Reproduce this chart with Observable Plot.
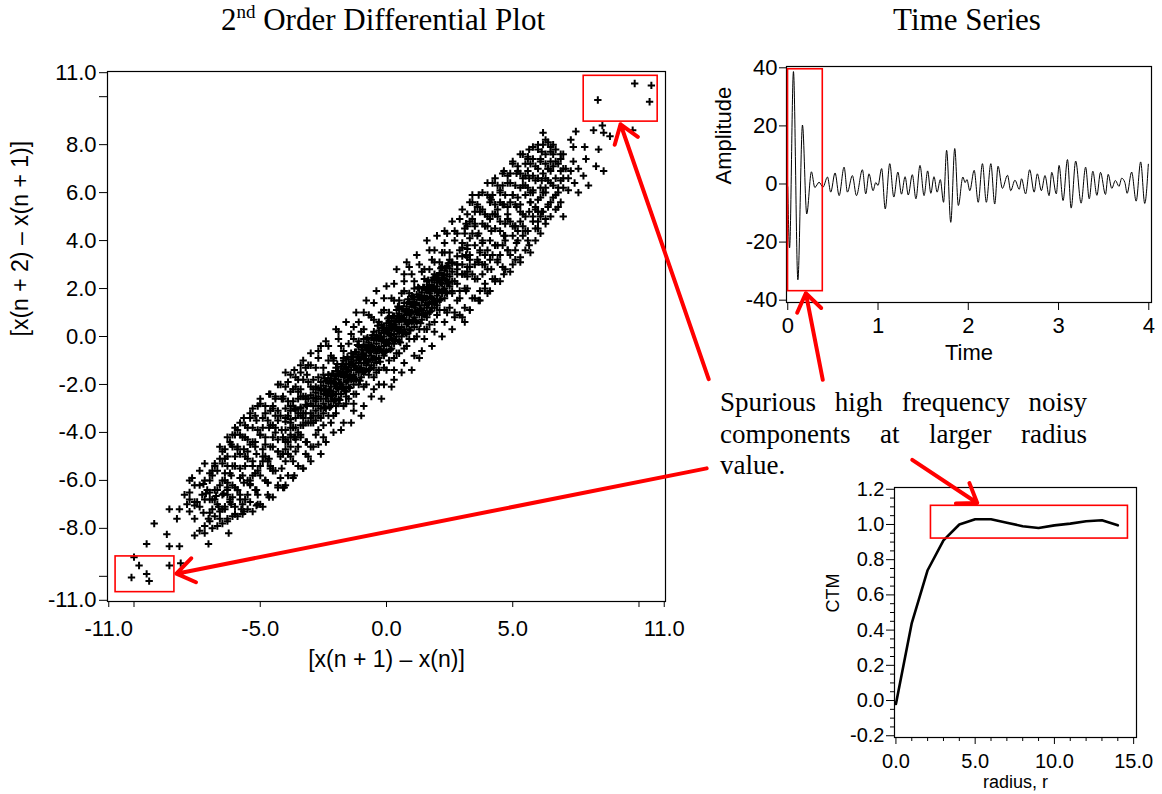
<!DOCTYPE html>
<html><head><meta charset="utf-8">
<script src="https://cdn.jsdelivr.net/npm/d3@7"></script>
<script src="https://cdn.jsdelivr.net/npm/@observablehq/plot@0.6"></script>
<style>
body{margin:0;background:#fff;}
#fig{position:relative;width:1162px;height:794px;overflow:hidden;background:#fff;}
#fig svg{position:absolute;left:0;top:0;}
.title{position:absolute;top:4px;font-family:"Liberation Serif","Times New Roman",serif;font-size:31px;line-height:31px;color:#000;white-space:nowrap;transform:translateX(-50%);}
.title sup{font-size:19px;vertical-align:12px;line-height:0;}
#note{position:absolute;left:720px;top:387px;width:367px;font-family:"Liberation Serif","Times New Roman",serif;font-size:27px;line-height:31.5px;color:#000;}
#note .j{text-align:justify;text-align-last:justify;}
</style></head>
<body>
<div id="fig">
  <div class="title" style="left:383px">2<sup>nd</sup> Order Differential Plot</div>
  <div class="title" style="left:967px">Time Series</div>
</div>
<script>
// ---------- Scatter (2nd order differential) data: [x(n+1)-x(n), x(n+2)-x(n+1)] ----------
const coreCloud = [
[-2.45,-2.95],[-2.45,-2.25],[-2.45,-1.75],[-2.35,-2.45],[-2.35,-1.85],[-2.25,-2.95],[-2.25,-2.25],[-2.25,-1.85],
[-2.15,-2.45],[-2.15,-1.55],[-2.05,-2.65],[-2.05,-1.95],[-2.05,-1.75],[-1.95,-2.15],[-1.95,-1.45],[-1.95,-1.15],
[-1.85,-2.65],[-1.85,-1.95],[-1.85,-1.55],[-1.75,-2.15],[-1.75,-1.55],[-1.75,-1.15],[-1.65,-2.25],[-1.65,-1.65],[-1.65,-1.25],
[-1.55,-1.85],[-1.55,-1.45],[-1.55,-0.85],[-1.45,-2.15],[-1.45,-1.65],[-1.45,-1.15],[-1.35,-1.75],[-1.35,-1.15],[-1.35,-0.85],
[-1.25,-1.75],[-1.25,-1.25],[-1.25,-0.65],[-1.15,-1.35],[-1.15,-0.85],[-1.15,-0.35],[-1.05,-1.85],[-1.05,-1.35],[-1.05,-0.95],
[-0.95,-1.45],[-0.95,-0.75],[-0.95,-0.45],[-0.85,-1.45],[-0.85,-0.95],[-0.85,-0.45],[-0.75,-1.05],[-0.75,-0.45],[-0.75,-0.05],
[-0.65,-1.35],[-0.65,-0.65],[-0.65,-0.45],[-0.55,-0.95],[-0.55,-0.45],[-0.55,0.05],[-0.45,-0.95],[-0.45,-0.55],[-0.45,-0.05],
[-0.35,-0.55],[-0.35,-0.05],[-0.35,0.45],[-0.25,-1.05],[-0.25,-0.55],[-0.25,-0.05],[-0.15,-0.65],[-0.15,-0.15],[-0.15,0.35],
[-0.05,-0.65],[-0.05,-0.25],[-0.05,0.25],[0.05,-0.25],[0.05,0.25],[0.05,0.75],[0.15,-0.55],[0.15,0.05],[0.15,0.55],
[0.25,-0.15],[0.25,0.35],[0.25,0.85],[0.35,-0.15],[0.35,0.35],[0.35,0.65],[0.45,0.25],[0.45,0.85],[0.45,1.25],
[0.55,-0.25],[0.55,0.25],[0.55,0.75],[0.65,0.15],[0.65,0.75],[0.65,1.15],[0.75,0.15],[0.75,0.65],[0.75,1.05],
[0.85,0.55],[0.85,1.05],[0.85,1.55],[0.95,0.25],[0.95,0.95],[0.95,1.35],[1.05,0.65],[1.05,1.35],[1.05,1.65],
[1.15,0.65],[1.15,1.05],[1.15,1.35],[1.25,1.05],[1.25,1.65],[1.25,2.05],[1.35,0.55],[1.35,1.15],[1.35,1.65],
[1.45,0.95],[1.45,1.55],[1.45,2.05],[1.55,0.95],[1.55,1.55],[1.55,1.95],[1.65,1.35],[1.65,1.95],[1.65,2.35],
[1.75,1.05],[1.75,1.65],[1.75,1.95],[1.85,1.45],[1.85,2.05],[1.85,2.45],[1.95,1.45],[1.95,1.95],[1.95,2.45],
[2.05,1.85],[2.05,2.45],[2.15,1.55],[2.15,2.25],[2.15,2.85],[2.25,1.95],[2.25,2.55],[2.35,1.85],[2.35,2.35],[2.35,2.85],
[2.45,2.25],[2.45,3.05]
];
const coreDense = [
[-4.0,-4.7],[-4.0,-4.3],[-4.0,-3.9],[-4.0,-3.55],[-3.8,-4.2],[-3.8,-3.8],[-3.8,-3.45],[-3.8,-3.1],
[-3.6,-4.2],[-3.6,-3.8],[-3.6,-3.4],[-3.6,-3.05],[-3.4,-4.1],[-3.4,-3.7],[-3.4,-3.3],[-3.4,-2.95],
[-3.2,-3.6],[-3.2,-3.2],[-3.2,-2.85],[-3.2,-2.5],[-3.0,-3.6],[-3.0,-3.2],[-3.0,-2.8],[-3.0,-2.45],
[-2.9,-3.3],[-2.9,-2.9],[-2.9,-2.55],[-2.9,-2.2],[-2.8,-3.5],[-2.8,-3.1],[-2.8,-2.7],[-2.8,-2.35],
[-2.7,-3.3],[-2.7,-2.9],[-2.7,-2.5],[-2.7,-2.15],[-2.6,-3.0],[-2.6,-2.6],[-2.6,-2.25],[-2.6,-1.9],
[-2.5,-3.2],[-2.5,-2.8],[-2.5,-2.4],[-2.5,-2.05],[-2.4,-3.0],[-2.4,-2.6],[-2.4,-2.2],[-2.4,-1.85],
[-2.3,-2.7],[-2.3,-2.3],[-2.3,-1.95],[-2.3,-1.6],[-2.2,-2.9],[-2.2,-2.5],[-2.2,-2.1],[-2.2,-1.75],
[-2.1,-2.7],[-2.1,-2.3],[-2.1,-1.9],[-2.1,-1.55],[-2.0,-2.4],[-2.0,-2.0],[-2.0,-1.65],[-2.0,-1.3],
[-1.9,-2.6],[-1.9,-2.2],[-1.9,-1.8],[-1.9,-1.45],[-1.8,-2.4],[-1.8,-2.0],[-1.8,-1.6],[-1.8,-1.25],
[-1.7,-2.1],[-1.7,-1.7],[-1.7,-1.35],[-1.7,-1.0],[-1.6,-2.3],[-1.6,-1.9],[-1.6,-1.5],[-1.6,-1.15],
[-1.5,-2.1],[-1.5,-1.7],[-1.5,-1.3],[-1.5,-0.95],[-1.4,-1.8],[-1.4,-1.4],[-1.4,-1.05],[-1.4,-0.7],
[-1.3,-2.0],[-1.3,-1.6],[-1.3,-1.2],[-1.3,-0.85],[-1.2,-1.8],[-1.2,-1.4],[-1.2,-1.0],[-1.2,-0.65],
[-1.1,-1.5],[-1.1,-1.1],[-1.1,-0.75],[-1.1,-0.4],[-1.0,-1.7],[-1.0,-1.3],[-1.0,-0.9],[-1.0,-0.55],
[-0.9,-1.5],[-0.9,-1.1],[-0.9,-0.7],[-0.9,-0.35],[-0.8,-1.2],[-0.8,-0.8],[-0.8,-0.45],[-0.8,-0.1],
[-0.7,-1.4],[-0.7,-1.0],[-0.7,-0.6],[-0.7,-0.25],[-0.6,-1.2],[-0.6,-0.8],[-0.6,-0.4],[-0.6,-0.05],
[-0.5,-0.9],[-0.5,-0.5],[-0.5,-0.15],[-0.5,0.2],[-0.4,-1.1],[-0.4,-0.7],[-0.4,-0.3],[-0.4,0.05],
[-0.3,-0.9],[-0.3,-0.5],[-0.3,-0.1],[-0.3,0.25],[-0.2,-0.6],[-0.2,-0.2],[-0.2,0.15],[-0.2,0.5],
[-0.1,-0.8],[-0.1,-0.4],[-0.1,0.0],[-0.1,0.35],[0.0,-0.6],[0.0,-0.2],[0.0,0.2],[0.0,0.55],
[0.1,-0.3],[0.1,0.1],[0.1,0.45],[0.1,0.8],[0.2,-0.5],[0.2,-0.1],[0.2,0.3],[0.2,0.65],
[0.3,-0.3],[0.3,0.1],[0.3,0.5],[0.3,0.85],[0.4,0.0],[0.4,0.4],[0.4,0.75],[0.4,1.1],
[0.5,-0.2],[0.5,0.2],[0.5,0.6],[0.5,0.95],[0.6,0.0],[0.6,0.4],[0.6,0.8],[0.6,1.15],
[0.7,0.3],[0.7,0.7],[0.7,1.05],[0.7,1.4],[0.8,0.1],[0.8,0.5],[0.8,0.9],[0.8,1.25],
[0.9,0.3],[0.9,0.7],[0.9,1.1],[0.9,1.45],[1.0,0.6],[1.0,1.0],[1.0,1.35],[1.0,1.7],
[1.1,0.4],[1.1,0.8],[1.1,1.2],[1.1,1.55],[1.2,0.6],[1.2,1.0],[1.2,1.4],[1.2,1.75],
[1.3,0.9],[1.3,1.3],[1.3,1.65],[1.3,2.0],[1.4,0.7],[1.4,1.1],[1.4,1.5],[1.4,1.85],
[1.5,0.9],[1.5,1.3],[1.5,1.7],[1.5,2.05],[1.6,1.2],[1.6,1.6],[1.6,1.95],[1.6,2.3],
[1.7,1.0],[1.7,1.4],[1.7,1.8],[1.7,2.15],[1.8,1.2],[1.8,1.6],[1.8,2.0],[1.8,2.35],
[1.9,1.5],[1.9,1.9],[1.9,2.25],[1.9,2.6],[2.0,1.3],[2.0,1.7],[2.0,2.1],[2.0,2.45],
[2.1,1.5],[2.1,1.9],[2.1,2.3],[2.1,2.65],[2.2,1.8],[2.2,2.2],[2.2,2.55],[2.2,2.9],
[2.3,1.6],[2.3,2.0],[2.3,2.4],[2.3,2.75],[2.4,1.8],[2.4,2.2],[2.4,2.6],[2.4,2.95],
[2.5,2.1],[2.5,2.5],[2.5,2.85],[2.5,3.2],[2.6,1.9],[2.6,2.3],[2.6,2.7],[2.6,3.05],
[2.8,2.2],[2.8,2.6],[2.8,3.0],[2.8,3.35],[3.0,2.6],[3.0,3.0],[3.0,3.35],[3.0,3.7],
[3.2,2.5],[3.2,2.9],[3.2,3.3],[3.2,3.65]
];
const haloCloud = [
[-2.4,-0.2],[-2.4,-4.4],[-2.2,-0.8],[-2.2,-3.6],[-2.0,0.3],[-2.0,-3.2],[-1.8,-0.4],[-1.8,-3.9],[-1.6,0.6],[-1.6,-2.8],
[-1.4,0.1],[-1.4,-3.6],[-1.2,1.0],[-1.2,-2.4],[-1.0,0.2],[-1.0,-3.3],[-0.8,1.5],[-0.8,-2.0],[-0.6,0.8],[-0.6,-2.5],
[-0.4,1.9],[-0.4,-1.5],[-0.2,1.0],[-0.2,-2.6],[0.0,2.1],[0.0,-1.4],[0.2,1.6],[0.2,-2.1],[0.4,2.8],[0.4,-0.7],
[0.6,1.8],[0.6,-1.5],[0.8,3.1],[0.8,-0.4],[1.0,2.6],[1.0,-1.4],[1.2,3.4],[1.2,0.0],[1.4,2.7],[1.4,-0.6],
[1.6,4.0],[1.6,0.3],[1.8,3.2],[1.8,-0.4],[2.0,4.2],[2.0,0.9],[2.2,3.5],[2.2,0.0],[2.4,4.3],[2.4,1.0],
[-1.9,0.2],[-0.9,1.0],[0.3,-1.8],[1.3,-0.9],[-2.3,-1.0],[2.3,3.9],[-1.3,-2.8],[0.7,2.6],[-0.3,-2.0],[1.7,3.6],
[-2.5,-1.3],[-2.1,-1.0],[-1.7,-0.6],[-1.3,-0.1],[-0.9,0.3],[-0.5,0.7],[-0.1,1.1],[0.3,1.5],[0.7,1.9],[1.1,2.3],
[1.5,2.8],[1.9,3.1],[2.3,3.5],[-2.5,-3.7],[-2.1,-3.3],[-1.7,-2.9],[-1.3,-2.4],[-0.9,-2.1],[-0.5,-1.7],[-0.1,-1.3],
[0.3,-0.9],[0.7,-0.5],[1.1,-0.1],[1.5,0.3],[1.9,0.6],[2.3,1.1],[-2.0,-2.9],[-1.1,-0.2],[0.9,1.8],[1.9,1.2],
[-0.5,-1.3],[0.5,1.2],[-1.6,-2.5],[1.6,0.8],[2.2,2.9],[-2.3,-1.6],
[-3.0,-1.2],[-3.0,-4.6],[-2.7,-0.6],[-2.7,-4.5],[-2.5,-1.6],[-2.5,-4.2],[-2.3,-0.4],[-2.3,-3.3],[-2.1,-0.9],[-2.1,-4.0],
[-1.9,-0.1],[-1.9,-2.8],[-1.7,-0.9],[-1.7,-3.6],[-1.5,-0.3],[-1.5,-2.6],[-1.3,0.4],[-1.3,-3.1],[-1.1,0.6],[-1.1,-2.0],
[-0.9,-0.1],[-0.9,-2.9],[-0.7,0.9],[-0.7,-1.6],[-0.5,1.4],[-0.5,-2.2],[-0.3,0.6],[-0.3,-1.4],[-0.1,1.6],[-0.1,-2.0],
[0.1,1.0],[0.1,-1.0],[0.3,2.2],[0.3,-1.4],[0.5,1.5],[0.5,-0.7],[0.7,2.3],[0.7,-1.1],[0.9,2.9],[0.9,-0.1],
[1.1,2.0],[1.1,-0.8],[1.3,3.0],[1.3,0.3],[1.5,2.4],[1.5,-0.1],[1.7,2.8],[1.7,0.5],[1.9,3.6],[1.9,0.2],
[2.1,3.1],[2.1,1.1],[2.3,4.4],[2.3,0.6],[2.5,3.5],[2.5,1.2],[2.7,4.0],[2.7,0.8],[2.9,4.9],[2.9,1.6]
];
const bandLeft = [
[-2.6,-0.4],[-2.6,-2.2],[-2.6,-3.4],[-2.6,-4.9],[-2.8,-1.3],[-2.8,-2.6],[-2.8,-4.1],[-3.0,-0.7],[-3.0,-2.1],[-3.0,-3.4],[-3.0,-5.2],
[-3.15,-1.6],[-3.15,-2.9],[-3.15,-4.4],[-3.3,-1.0],[-3.3,-2.5],[-3.3,-3.7],[-3.3,-5.5],[-3.5,-1.8],[-3.5,-3.2],[-3.5,-4.6],
[-3.65,-1.4],[-3.65,-3.0],[-3.65,-4.2],[-3.65,-5.8],[-3.8,-2.3],[-3.8,-3.6],[-3.8,-5.0],[-4.0,-1.5],[-4.0,-3.0],[-4.0,-4.4],[-4.0,-6.2],
[-4.15,-2.6],[-4.15,-3.9],[-4.15,-5.5],[-4.3,-2.0],[-4.3,-3.5],[-4.3,-4.8],[-4.3,-6.3],[-4.5,-2.9],[-4.5,-4.2],[-4.5,-5.6],
[-4.65,-2.4],[-4.65,-3.8],[-4.65,-5.1],[-4.65,-6.7],[-4.8,-3.2],[-4.8,-4.5],[-4.8,-6.0],[-5.0,-2.6],[-5.0,-4.1],[-5.0,-5.4],[-5.0,-7.0],
[-5.15,-3.5],[-5.15,-4.9],[-5.15,-6.4],[-5.3,-3.0],[-5.3,-4.4],[-5.3,-5.8],[-5.5,-3.8],[-5.5,-5.1],[-5.5,-6.6],
[-5.65,-3.4],[-5.65,-4.7],[-5.65,-6.1],[-5.65,-7.3],[-5.8,-4.1],[-5.8,-5.5],[-5.8,-6.8],[-6.0,-3.8],[-6.0,-5.0],[-6.0,-6.3],[-6.0,-7.4],
[-6.15,-4.5],[-6.15,-5.8],[-6.15,-7.0],[-6.3,-4.2],[-6.3,-5.4],[-6.3,-6.6],[-6.3,-7.6],[-6.5,-4.8],[-6.5,-6.0],[-6.5,-7.2],
[-2.7,-0.9],[-2.7,-3.9],[-2.9,-1.8],[-2.9,-4.6],[-3.1,-2.6],[-3.1,-1.2],[-3.2,-4.9],[-3.4,-3.0],[-3.4,-1.5],[-3.6,-4.3],
[-3.6,-2.1],[-3.7,-5.2],[-3.9,-3.3],[-3.9,-1.9],[-4.1,-4.9],[-4.1,-2.5],[-4.2,-5.9],[-4.4,-4.0],[-4.4,-2.6],[-4.6,-5.5],
[-4.6,-3.1],[-4.7,-6.1],[-4.9,-3.8],[-4.9,-4.7],[-5.1,-6.6],[-5.1,-2.9],[-5.2,-4.4],[-5.4,-3.4],[-5.4,-6.9],[-5.6,-5.4],
[-5.6,-4.2],[-5.7,-7.0],[-5.9,-3.9],[-5.9,-6.4],[-6.1,-5.4],[-6.1,-4.1],[-6.2,-6.8],[-6.4,-5.7],[-6.4,-7.1],[-6.6,-4.6],
[-6.8,-6.8],[-6.9,-5.8],[-7.1,-6.4],[-7.2,-5.3],[-7.5,-6.9],[-7.7,-5.9],[-7.9,-7.0],[-8.0,-6.6],[-8.3,-7.6],[-5.3,-5.2],
[-4.3,-4.3],[-3.3,-3.2],[-2.8,-2.1],[-3.8,-4.1],[-4.8,-5.0],[-5.8,-5.9],[-6.3,-6.1],[-3.5,-2.6],[-4.5,-3.7],[-5.5,-4.8],
[-5.9,-4.6],[-5.4,-6.0],[-4.9,-5.2],[-4.4,-3.3],[-3.9,-4.9],[-3.4,-2.2],[-2.9,-3.6],[-2.7,-1.7],[-3.7,-2.7],[-4.6,-4.6],
[-5.2,-5.7],[-6.4,-5.1],[-6.7,-6.4],[-6.8,-5.3],[-7.0,-6.0],[-7.3,-6.6],[-7.4,-5.6],[-6.9,-7.2],[-6.6,-7.6],[-7.8,-6.5]
];
const bandFillLeft = [
[-3.1,-5.0],[-3.1,-3.6],[-3.1,-1.9],[-3.2,-4.4],[-3.2,-2.6],[-3.2,-1.3],[-3.3,-5.5],[-3.3,-3.4],[-3.3,-1.8],
[-3.4,-4.2],[-3.4,-2.5],[-3.4,-1.2],[-3.5,-5.4],[-3.5,-4.0],[-3.5,-2.3],[-3.6,-4.8],[-3.6,-3.0],[-3.6,-1.7],
[-3.7,-5.9],[-3.7,-3.8],[-3.7,-2.2],[-3.8,-4.6],[-3.8,-2.9],[-3.8,-1.6],[-3.9,-5.8],[-3.9,-4.4],[-3.9,-2.7],
[-4.0,-5.2],[-4.0,-3.4],[-4.0,-2.1],[-4.1,-6.3],[-4.1,-4.2],[-4.1,-2.6],[-4.2,-5.0],[-4.2,-3.3],[-4.2,-2.0],
[-4.3,-6.2],[-4.3,-4.8],[-4.3,-3.1],[-4.4,-5.6],[-4.4,-3.8],[-4.4,-2.5],[-4.5,-6.7],[-4.5,-4.6],[-4.5,-3.0],
[-4.6,-5.4],[-4.6,-3.7],[-4.6,-2.4],[-4.7,-6.6],[-4.7,-5.2],[-4.7,-3.5],[-4.8,-6.0],[-4.8,-4.2],[-4.8,-2.9],
[-4.9,-7.1],[-4.9,-5.0],[-4.9,-3.4],[-5.0,-5.8],[-5.0,-4.1],[-5.0,-2.8],[-5.1,-7.0],[-5.1,-5.6],[-5.1,-3.9],
[-5.2,-6.4],[-5.2,-4.6],[-5.2,-3.3],[-5.3,-7.3],[-5.3,-5.4],[-5.3,-3.8],[-5.4,-6.2],[-5.4,-4.5],[-5.4,-3.2],
[-5.5,-7.2],[-5.5,-6.0],[-5.5,-4.3],[-5.6,-6.8],[-5.6,-5.0],[-5.6,-3.7],[-5.7,-7.4],[-5.7,-5.8],[-5.7,-4.2],
[-5.8,-6.6],[-5.8,-4.9],[-5.8,-3.6],[-5.9,-7.5],[-5.9,-6.4],[-5.9,-4.7],[-6.0,-7.1],[-6.0,-5.4],[-6.0,-4.1],
[-6.1,-7.5],[-6.1,-6.2],[-6.1,-4.6],[-6.2,-6.9],[-6.2,-5.7],[-6.2,-4.4],[-6.3,-7.7],[-6.3,-6.4],[-6.3,-5.0],
[-6.4,-7.2],[-6.4,-6.0],[-6.4,-4.7],[-6.5,-7.8],[-6.5,-6.6],[-6.5,-5.3],[-6.6,-7.3],[-6.6,-6.2],[-6.6,-5.1],
[-6.7,-7.9],[-6.7,-7.0],[-6.7,-5.6],[-6.8,-7.5],[-6.8,-6.4],[-6.8,-5.4],[-6.9,-8.0],[-6.9,-6.8],[-6.9,-5.6],
[-7.0,-7.7],[-7.0,-6.5],[-7.0,-5.7],[-7.2,-7.9],[-7.2,-6.8],[-7.2,-6.0],[-7.4,-8.1],[-7.4,-7.1],[-7.4,-6.2],
[-7.6,-8.3],[-7.6,-6.9],[-7.8,-7.3],[-7.8,-6.8]
];
const bandRight = [
[2.6,4.8],[2.6,3.1],[2.6,1.8],[2.6,0.3],[2.8,4.3],[2.8,3.0],[2.8,1.5],[3.0,5.3],[3.0,3.9],[3.0,2.6],[3.0,0.8],
[3.15,4.7],[3.15,3.4],[3.15,1.9],[3.3,5.6],[3.3,4.1],[3.3,2.9],[3.3,1.1],[3.5,5.2],[3.5,3.8],[3.5,2.4],
[3.65,5.9],[3.65,4.3],[3.65,3.1],[3.65,1.5],[3.8,5.3],[3.8,4.0],[3.8,2.6],[4.0,6.4],[4.0,5.0],[4.0,3.6],[4.0,1.8],
[4.15,5.7],[4.15,4.4],[4.15,2.8],[4.3,6.6],[4.3,5.1],[4.3,3.8],[4.3,2.3],[4.5,6.1],[4.5,4.8],[4.5,3.4],
[4.65,6.9],[4.65,5.5],[4.65,4.2],[4.65,2.6],[4.8,6.4],[4.8,5.1],[4.8,3.6],[5.0,7.3],[5.0,5.9],[5.0,4.6],[5.0,3.0],
[5.15,6.8],[5.15,5.4],[5.15,3.9],[5.3,7.6],[5.3,6.2],[5.3,4.8],[5.3,3.3],[5.5,7.2],[5.5,5.9],[5.5,4.4],
[5.65,7.8],[5.65,6.6],[5.65,5.2],[5.65,3.8],[5.8,7.4],[5.8,6.1],[5.8,4.8],[6.0,8.0],[6.0,7.0],[6.0,5.7],[6.0,4.5],
[6.15,7.7],[6.15,6.5],[6.15,5.2],[6.3,8.2],[6.3,7.2],[6.3,6.0],[6.3,4.9],[6.5,7.9],[6.5,6.9],[6.5,5.6],
[2.7,4.4],[2.7,1.0],[2.9,3.6],[2.9,1.9],[3.1,4.5],[3.1,0.6],[3.2,2.7],[3.4,4.9],[3.4,1.6],[3.6,3.2],
[3.6,5.4],[3.7,1.9],[3.9,4.6],[3.9,2.2],[4.1,5.8],[4.1,3.2],[4.2,2.4],[4.4,5.3],[4.4,3.8],[4.6,6.3],
[4.6,2.9],[4.7,4.7],[4.9,6.8],[4.9,3.4],[5.1,5.5],[5.1,3.6],[5.2,4.4],[5.4,6.6],[5.4,5.1],[5.6,4.0],
[5.6,7.4],[5.7,5.6],[5.9,6.5],[5.9,4.5],[6.1,7.4],[6.1,5.0],[6.2,6.0],[6.4,7.0],[6.4,5.4],[6.6,6.3],
[6.7,5.9],[6.9,6.9],[7.0,7.6],[7.2,6.6],[7.4,7.3],[7.6,7.0],[3.3,3.4],[4.3,4.5],[5.3,5.5],[6.3,6.6],
[2.8,2.8],[3.8,3.9],[4.8,4.9],[5.8,6.0],[3.5,4.6],[4.5,5.6],[5.5,6.3],[6.5,7.3],
[2.7,2.3],[3.2,4.6],[3.7,3.5],[4.2,5.9],[4.4,3.1],[4.9,5.6],[5.4,4.2],[5.7,6.0],[6.1,6.2],[6.4,6.5],
[2.9,0.9],[3.4,5.9],[3.9,3.0],[4.7,4.0],[5.2,6.9],[5.9,5.3],[6.6,7.6],[3.1,2.0],[4.1,4.9],[5.1,4.6]
];
const bandFillRight = [
[3.1,1.2],[3.1,2.6],[3.1,4.3],[3.2,2.0],[3.2,3.8],[3.2,5.1],[3.3,1.1],[3.3,3.2],[3.3,4.8],
[3.4,2.6],[3.4,4.3],[3.4,5.6],[3.5,1.6],[3.5,3.0],[3.5,4.7],[3.6,2.4],[3.6,4.2],[3.6,5.5],
[3.7,1.5],[3.7,3.6],[3.7,5.2],[3.8,3.0],[3.8,4.7],[3.8,6.0],[3.9,2.0],[3.9,3.4],[3.9,5.1],
[4.0,2.8],[4.0,4.6],[4.0,5.9],[4.1,1.9],[4.1,4.0],[4.1,5.6],[4.2,3.4],[4.2,5.1],[4.2,6.4],
[4.3,2.4],[4.3,3.8],[4.3,5.5],[4.4,3.2],[4.4,5.0],[4.4,6.3],[4.5,2.3],[4.5,4.4],[4.5,6.0],
[4.6,3.8],[4.6,5.5],[4.6,6.8],[4.7,2.8],[4.7,4.2],[4.7,5.9],[4.8,3.6],[4.8,5.4],[4.8,6.7],
[4.9,2.7],[4.9,4.8],[4.9,6.4],[5.0,4.2],[5.0,5.9],[5.0,7.2],[5.1,3.2],[5.1,4.6],[5.1,6.3],
[5.2,4.0],[5.2,5.8],[5.2,7.1],[5.3,3.1],[5.3,5.2],[5.3,6.8],[5.4,4.6],[5.4,6.3],[5.4,7.6],
[5.5,3.6],[5.5,5.0],[5.5,6.7],[5.6,4.4],[5.6,6.2],[5.6,7.5],[5.7,3.5],[5.7,5.6],[5.7,7.2],
[5.8,5.0],[5.8,6.7],[5.8,7.9],[5.9,4.0],[5.9,5.4],[5.9,7.1],[6.0,4.8],[6.0,6.6],[6.0,7.8],
[6.1,4.3],[6.1,5.8],[6.1,7.3],[6.2,5.2],[6.2,6.8],[6.2,8.0],[6.3,4.7],[6.3,6.2],[6.3,7.6],
[6.4,5.5],[6.4,7.0],[6.4,8.1],[6.5,5.0],[6.5,6.4],[6.5,7.7],[6.6,5.8],[6.6,7.1],[6.7,5.3],
[6.7,6.6],[6.7,7.8],[6.8,6.0],[6.8,7.2],[6.9,5.6],[6.9,6.5],[6.9,7.4],[7.0,6.2],[7.0,7.0]
];
const tailLowerLeft = [
[-8.6,-7.2],[-8.2,-7.2],[-7.6,-7.05],[-7.6,-7.6],[-7.05,-7.6],[-9.2,-7.8],[-8.7,-8.25],[-7.2,-8.2],[-6.25,-8.2],
[-9.5,-8.65],[-8.6,-8.75],[-8.2,-8.75],[-7.05,-8.65],[-10.0,-9.2],[-9.8,-9.55],[-8.6,-9.55],[-8.15,-9.45],
[-10.1,-10.05],[-9.5,-9.9],[-9.4,-10.2],
[-7.8,-6.0],[-7.6,-6.2],[-7.25,-6.15],[-7.15,-6.55],[-7.0,-6.8],[-6.75,-6.65],[-6.45,-6.55],[-6.1,-6.7],
[-5.75,-7.2],[-5.15,-7.05],[-6.65,-7.1],[-7.25,-7.35],[-7.0,-7.35],[-6.3,-6.3],[-5.4,-6.15],[-4.7,-6.1],[-4.05,-6.3]
];
const tailUpperRight = [
[6.7,7.3],[6.8,6.2],[6.9,7.6],[7.0,6.6],[7.1,7.0],[7.2,6.1],[7.3,8.2],[7.3,6.9],[7.4,7.9],[7.45,6.4],
[7.8,6.7],[7.9,7.4],[7.85,7.9],[8.3,7.1],[8.4,7.8],[8.6,6.9],[8.2,8.6],[8.55,8.8],[8.6,8.5],[8.85,8.35],
[9.75,8.6],[7.5,8.55],[6.2,8.5],[6.6,8.0],[6.8,5.4],[7.0,5.0],[6.0,5.2],[5.6,6.9],[7.6,6.0],[8.0,6.3],
[9.83,10.55],[10.49,10.47],[8.37,9.86],[10.42,9.79]
];
const scatterXTicks = [-11, -10, -5, 0, 5, 10, 11];
const scatterYTicks = [11, 10, 8, 6, 4, 2, 0, -2, -4, -6, -8, -10, -11];

// ---------- Time series (turning points of the trace) ----------
const tsTime = [0.000,0.020,0.063,0.112,0.163,0.210,0.262,0.300,0.347,0.390,0.440,0.476,0.524,0.569,0.624,0.661,0.716,0.761,0.827,0.864,
0.900,0.945,0.975,1.000,1.040,1.080,1.130,1.175,1.220,1.260,1.300,1.335,1.380,1.420,1.465,1.510,1.550,1.585,1.620,1.655,
1.690,1.726,1.760,1.806,1.850,1.890,1.940,1.965,1.985,2.017,2.065,2.110,2.157,2.200,2.250,2.293,2.330,2.378,2.435,2.470,
2.517,2.565,2.590,2.635,2.680,2.730,2.765,2.810,2.850,2.895,2.925,2.975,3.006,3.050,3.099,3.140,3.190,3.250,3.300,3.340,
3.380,3.425,3.465,3.520,3.550,3.590,3.630,3.670,3.700,3.735,3.760,3.810,3.860,3.910,3.955,3.995];
const tsAmp = [-1,-22,38.7,-33,20.3,-10.3,4.2,-1.2,0.6,-1.1,2.4,-2.8,3.8,-4.0,5.8,-2.8,2.9,-4.0,4.9,-3.4,
3.5,-2.3,0.5,-0.5,5.3,-8.6,7.0,-4.5,4.1,-3.5,2.5,-3.8,3.2,-5.1,6.4,-4.0,4.5,-3.2,2.5,-2.8,
1.5,-6.3,11.6,-13.2,12.2,-7.4,2.4,0.5,1.5,-2.3,4.7,-6.3,7.0,-6.3,7.0,-6.9,6.1,-1.5,3.0,-2.3,
1.3,-1.8,1.8,-3.4,4.9,-2.8,3.5,-2.3,2.9,-4.0,4.0,-3.4,6.4,-5.7,8.4,-8.3,7.9,-6.6,5.8,-5.1,
4.4,-3.9,4.0,-3.6,3.3,-1.5,1.2,-0.8,2.0,0.5,-3.2,4.1,-5.9,7.6,-6.7,6.8];
const tsXTicks = [0, 1, 2, 3, 4];
const tsYTicks = [40, 20, 0, -20, -40];

// ---------- CTM vs radius ----------
const ctmRadius = [0,1,2,3,4,5,6,7,8,9,10,11,12,13,14];
const ctmValue = [-0.02,0.44,0.74,0.91,1.00,1.03,1.03,1.01,0.99,0.98,0.995,1.005,1.018,1.024,0.995];
const ctmXMajor = [0, 5, 10, 15];
const ctmXMinor = [1,2,3,4,6,7,8,9,11,12,13,14];
const ctmYMajor = [-0.2, 0, 0.2, 0.4, 0.6, 0.8, 1.0, 1.2];
const ctmYMinor = [-0.15,-0.1,-0.05,0.05,0.1,0.15,0.25,0.3,0.35,0.45,0.5,0.55,0.65,0.7,0.75,0.85,0.9,0.95,1.05,1.1,1.15];

// ---------- Annotations (in each panel's data units) ----------
const scatterBoxes = [{x1:7.81,x2:10.74,y1:8.96,y2:10.87},{x1:-10.73,x2:-8.40,y1:-10.66,y2:-9.17}];
const scatterArrows = [{x1:12.76,y1:-1.78,x2:9.27,y2:8.85},{x1:12.68,y1:-5.5,x2:-8.32,y2:-9.89}];
const tsBoxes = [{x1:0.003,x2:0.388,y1:-36.9,y2:39.5}];
const tsArrows = [{x1:0.388,y1:-67.4,x2:0.2,y2:-37.6}];
const ctmBoxes = [{x1:2.21,x2:14.64,y1:0.92,y2:1.106}];
const ctmArrows = [{x1:1.03,y1:1.367,x2:5.13,y2:1.122}];

// ---------- Drawing ----------
const W = 1162, H = 794;
const fmt1 = d => (d < 0 ? "-" : "") + Math.abs(d).toFixed(1);
const fmt0 = d => (d < 0 ? "-" : "") + Math.abs(d);
const sans = "'Liberation Sans', Arial, Helvetica, sans-serif";
const fig = document.getElementById("fig");

const scatterPts = [...coreCloud, ...coreDense, ...haloCloud, ...bandLeft, ...bandFillLeft, ...bandRight, ...bandFillRight, ...tailLowerLeft, ...tailUpperRight]
  .map(([x, y]) => ({x, y}));

const scatter = Plot.plot({
  width: W, height: H,
  marginLeft: 107, marginRight: W - 665, marginTop: 71, marginBottom: H - 601,
  x: {domain: [-11.05, 11.05]},
  y: {domain: [-11.05, 11.05]},
  style: {background: "transparent", fontFamily: sans, fontSize: "22px", color: "black", overflow: "visible"},
  marks: [
    Plot.dot(scatterPts, {x: "x", y: "y", symbol: "plus", r: 2.5, stroke: "black", strokeWidth: 2}),
    Plot.frame({stroke: "black", strokeWidth: 1.2}),
    Plot.axisX(scatterXTicks, {tickSize: 6, tickPadding: 13, label: null, tickFormat: d => Math.abs(d) === 10 ? "" : fmt1(d)}),
    Plot.axisY(scatterYTicks, {tickSize: 8, tickPadding: 3, label: null, tickFormat: d => Math.abs(d) === 10 ? "" : fmt1(d)}),
    Plot.rect(scatterBoxes, {x1: "x1", x2: "x2", y1: "y1", y2: "y2", fill: "none", stroke: "#ff0000", strokeWidth: 1.6}),
    Plot.arrow(scatterArrows, {x1: "x1", y1: "y1", x2: "x2", y2: "y2", stroke: "#ff0000", strokeWidth: 4, headLength: 8, headAngle: 70}),
    Plot.text(["[x(n + 1) \u2013 x(n)]"], {text: d => d, frameAnchor: "bottom", dy: 65, fontSize: 23}),
    Plot.text(["[x(n + 2) \u2013 x(n + 1)]"], {text: d => d, frameAnchor: "left", rotate: -90, dx: -87, fontSize: 23})
  ]
});
fig.appendChild(scatter);

const tsData = tsTime.map((t, i) => ({t, a: tsAmp[i]}));
const ts = Plot.plot({
  width: W, height: H,
  marginLeft: 786, marginRight: W - 1151, marginTop: 66, marginBottom: H - 302,
  x: {domain: [-0.014, 4.03]},
  y: {domain: [-40.8, 40.45]},
  style: {background: "transparent", fontFamily: sans, fontSize: "22px", color: "black", overflow: "visible"},
  marks: [
    Plot.frame({stroke: "black", strokeWidth: 1.2}),
    Plot.axisX(tsXTicks, {tickSize: 8, tickPadding: 7, label: null, tickFormat: fmt0}),
    Plot.axisY(tsYTicks, {tickSize: 7, tickPadding: 2, label: null, tickFormat: fmt0}),
    Plot.line(tsData, {x: "t", y: "a", stroke: "black", strokeWidth: 1, curve: "monotone-x"}),
    Plot.rect(tsBoxes, {x1: "x1", x2: "x2", y1: "y1", y2: "y2", fill: "none", stroke: "#ff0000", strokeWidth: 1.6}),
    Plot.arrow(tsArrows, {x1: "x1", y1: "y1", x2: "x2", y2: "y2", stroke: "#ff0000", strokeWidth: 4, headLength: 8, headAngle: 70}),
    Plot.text(["Time"], {text: d => d, frameAnchor: "bottom", dy: 57, fontSize: 22}),
    Plot.text(["Amplitude"], {text: d => d, frameAnchor: "left", rotate: -90, dx: -63, fontSize: 22})
  ]
});
fig.appendChild(ts);

const ctmData = ctmRadius.map((r, i) => ({r, v: ctmValue[i]}));
const ctm = Plot.plot({
  width: W, height: H,
  marginLeft: 894, marginRight: W - 1136, marginTop: 487, marginBottom: H - 737,
  x: {domain: [-0.09, 15.18]},
  y: {domain: [-0.21, 1.21]},
  style: {background: "transparent", fontFamily: sans, fontSize: "20px", color: "black", overflow: "visible"},
  marks: [
    Plot.frame({stroke: "black", strokeWidth: 1.2}),
    Plot.axisX(ctmXMajor, {tickSize: 7, tickPadding: 9, label: null, tickFormat: fmt1}),
    Plot.axisX(ctmXMinor, {tickSize: 4, label: null, tickFormat: () => ""}),
    Plot.axisY(ctmYMajor, {tickSize: 8, tickPadding: 2, label: null, tickFormat: fmt1}),
    Plot.axisY(ctmYMinor, {tickSize: 4, label: null, tickFormat: () => ""}),
    Plot.line(ctmData, {x: "r", y: "v", stroke: "black", strokeWidth: 2.6}),
    Plot.rect(ctmBoxes, {x1: "x1", x2: "x2", y1: "y1", y2: "y2", fill: "none", stroke: "#ff0000", strokeWidth: 1.6}),
    Plot.arrow(ctmArrows, {x1: "x1", y1: "y1", x2: "x2", y2: "y2", stroke: "#ff0000", strokeWidth: 4, headLength: 8, headAngle: 70}),
    Plot.text(["radius, r"], {text: d => d, frameAnchor: "bottom", dy: 50, fontSize: 18}),
    Plot.text(["CTM"], {text: d => d, frameAnchor: "left", rotate: -90, dx: -61, fontSize: 18})
  ]
});
fig.appendChild(ctm);

const note = document.createElement("div");
note.id = "note";
note.innerHTML = '<div class="j">Spurious high frequency noisy</div><div class="j">components at larger radius</div><div>value.</div>';
fig.appendChild(note);
</script>
</body></html>
